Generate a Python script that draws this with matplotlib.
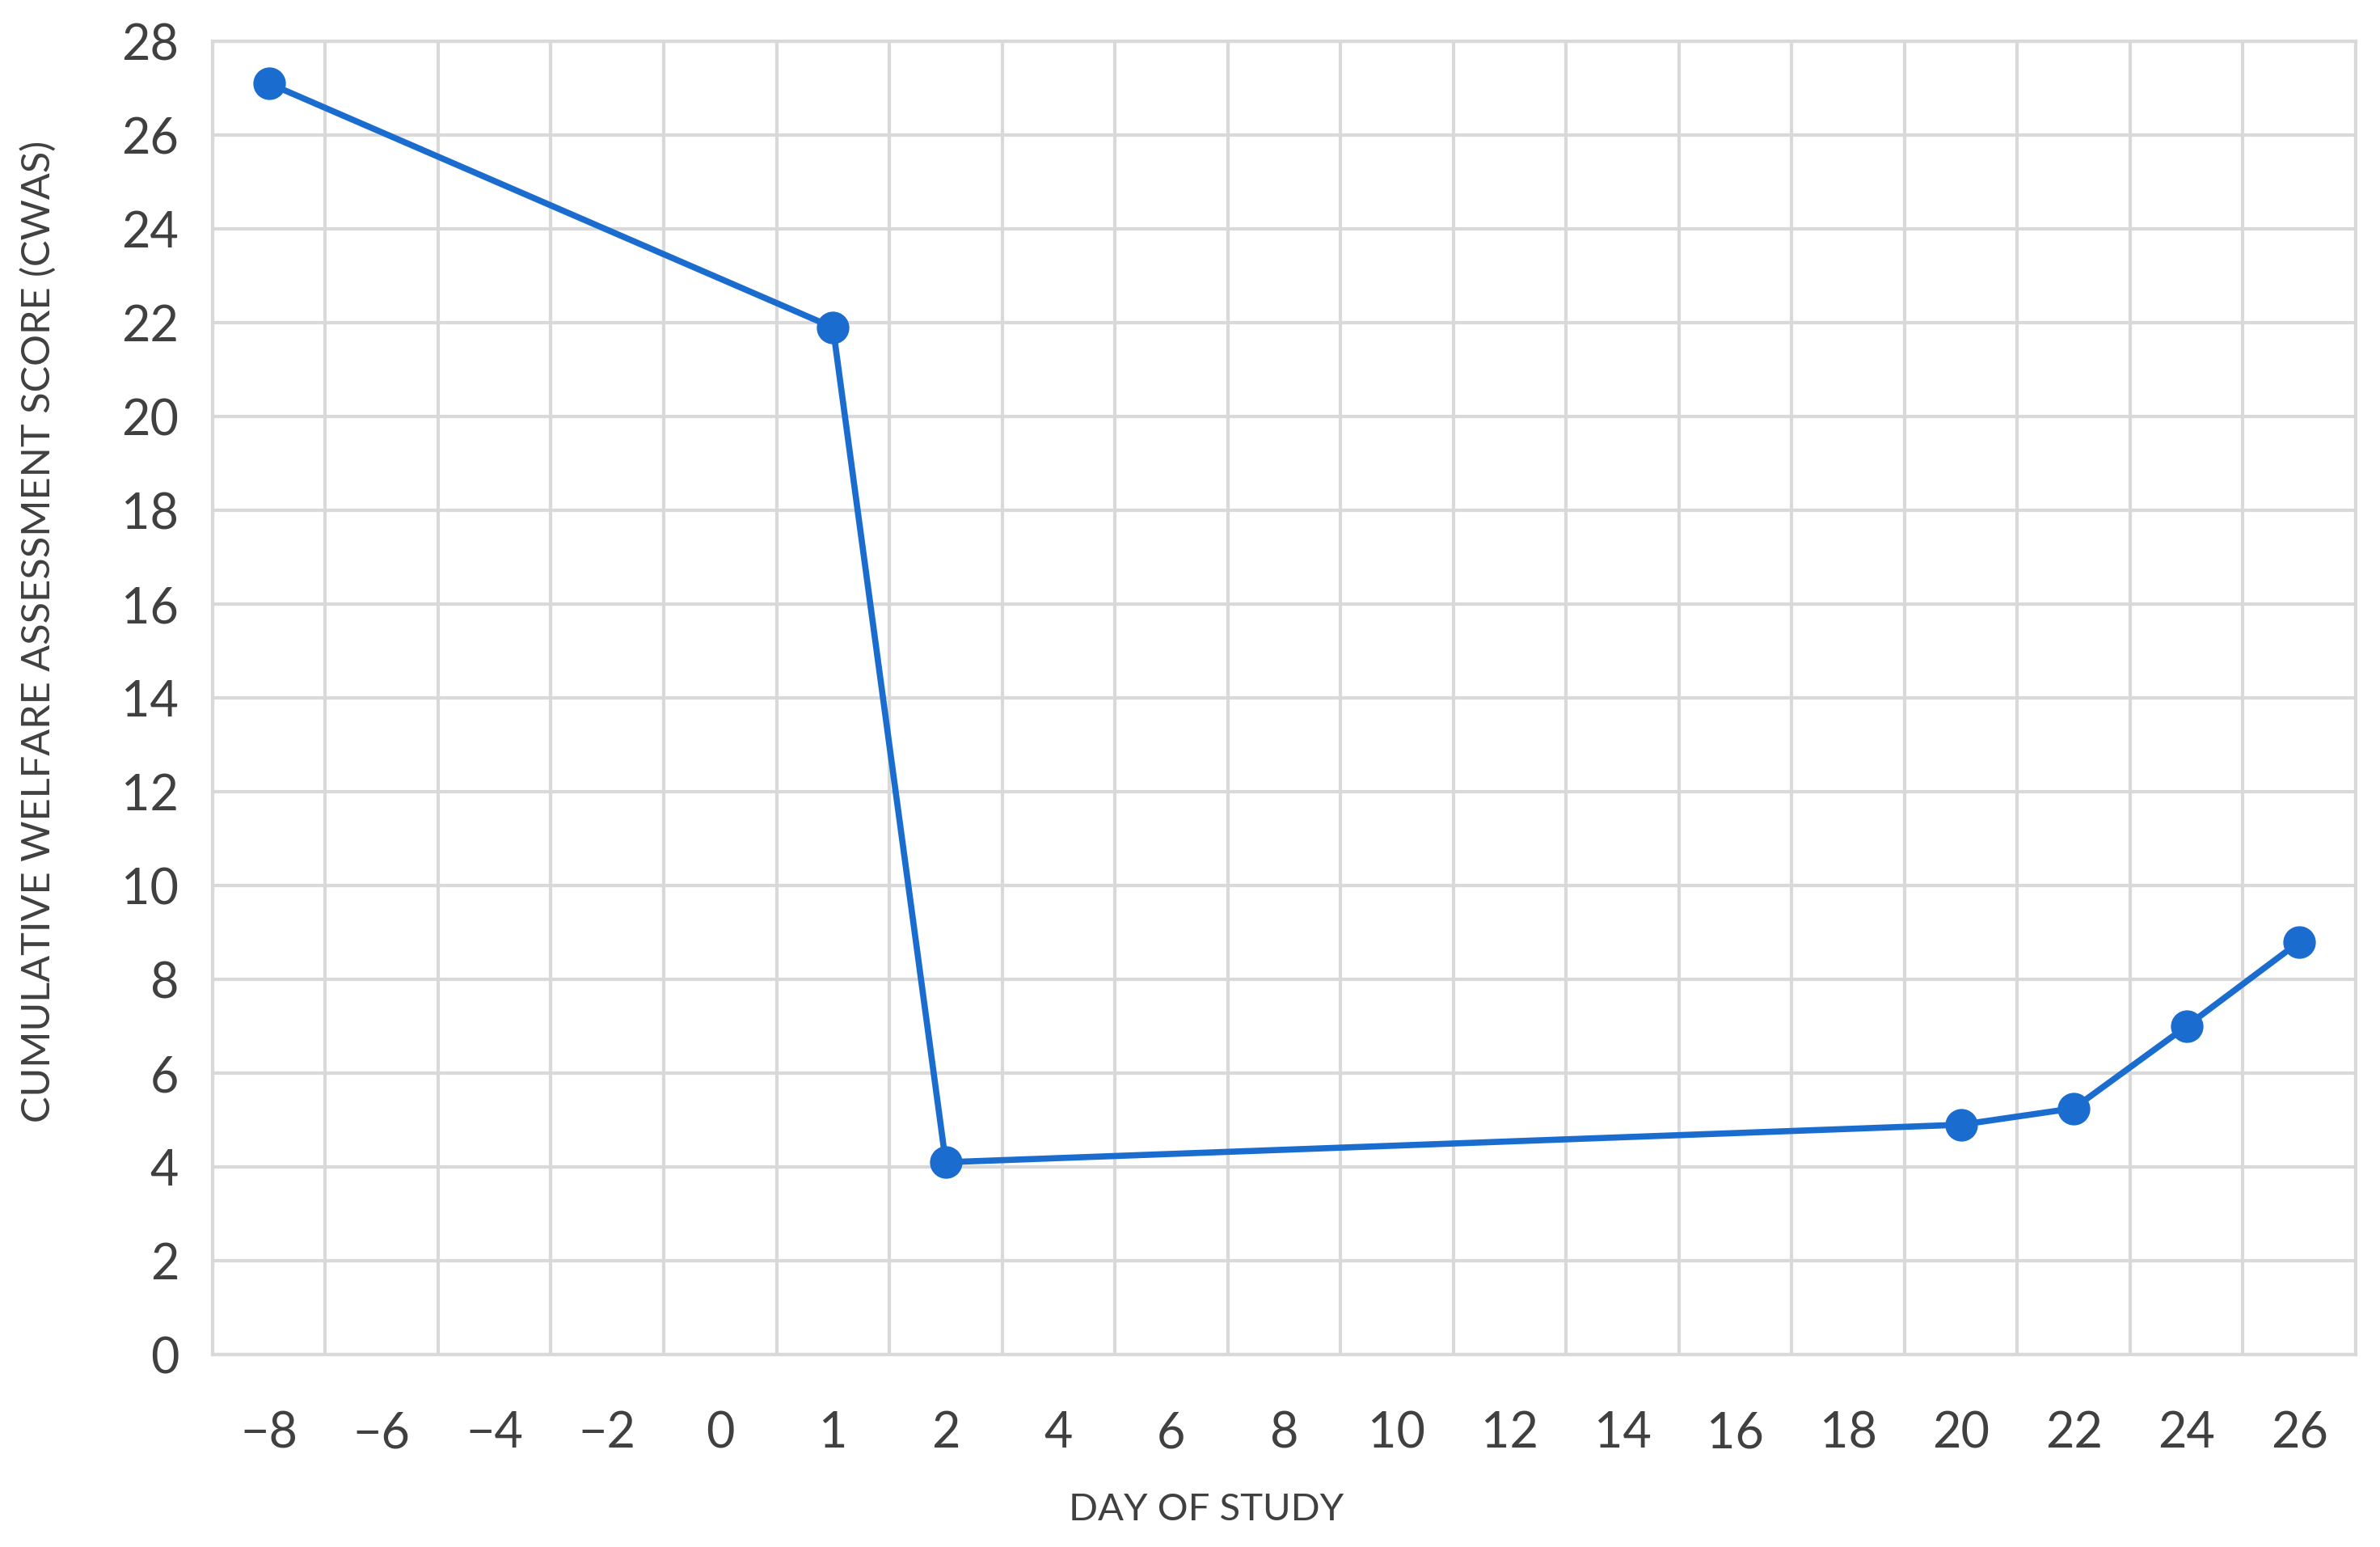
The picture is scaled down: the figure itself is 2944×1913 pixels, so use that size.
import matplotlib.pyplot as plt
import numpy as np

# categorical day axis (unequal real spacing, equal on chart)
days = ['-8', '-6', '-4', '-2', '0', '1', '2', '4', '6', '8', '10', '12', '14',
        '16', '18', '20', '22', '24', '26']
point_days = ['-8', '1', '2', '20', '22', '24', '26']
cwas = [27.1, 21.9, 4.1, 4.9, 5.25, 7.0, 8.8]
y_ticks = list(range(0, 29, 2))

plt.rcParams['font.family'] = ['Lato', 'DejaVu Sans']

fig = plt.figure(figsize=(29.44, 19.13), dpi=100)
ax = fig.add_axes([0.0893, 0.1244, 0.9005, 0.8489])

xpos = [days.index(d) for d in point_days]
ax.plot(xpos, cwas, '-', color='#1b6ccf', linewidth=5.5, marker='o',
        markersize=28, zorder=3, clip_on=False)

ax.set_xlim(-0.5, len(days) - 0.5)
ax.set_ylim(0, 28)
ax.set_xticks(range(len(days)))
ax.set_xticklabels([d.replace('-', '\u2212') for d in days])
ax.set_xticks(np.arange(-0.5, len(days), 1), minor=True)
ax.set_yticks(y_ticks)

ax.grid(True, which='minor', axis='x', color='#d9d9d9', linewidth=3)
ax.grid(True, which='major', axis='y', color='#d9d9d9', linewidth=3)
ax.set_axisbelow(True)
for s in ax.spines.values():
    s.set_color('#d9d9d9')
    s.set_linewidth(3)

ax.tick_params(axis='both', which='both', length=0, labelsize=44, labelcolor='#404040')
ax.tick_params(axis='x', pad=50)
ax.tick_params(axis='y', pad=30)

fig.text(0.016, 0.592, 'CUMULATIVE WELFARE ASSESSMENT SCORE (CWAS)', rotation=90,
         ha='center', va='center', fontsize=35, color='#404040')
fig.text(0.507, 0.024, 'DAY OF STUDY', ha='center', va='center',
         fontsize=34, color='#404040')

fig.savefig('out.png', dpi=100)
